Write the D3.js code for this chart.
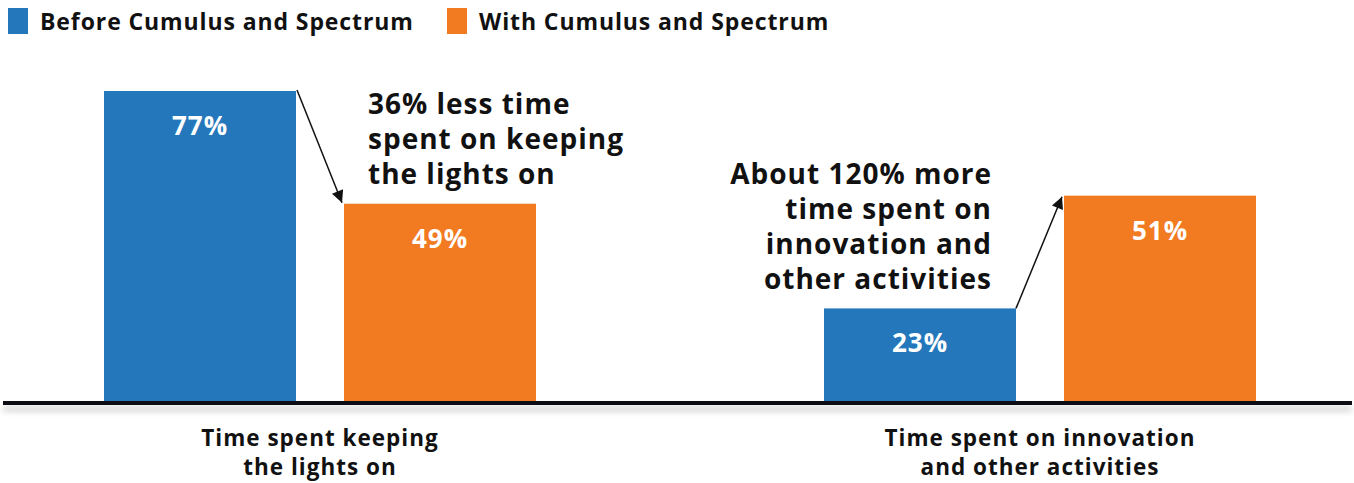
<!DOCTYPE html>
<html><head><meta charset="utf-8">
<script src="https://cdn.jsdelivr.net/npm/d3@7"></script>
<style>body{margin:0;background:#fff}svg{display:block;font-family:"Open Sans",sans-serif;font-weight:700}</style>
</head><body><svg id="c" width="1354" height="483"></svg>
<script>
const categories = ["keep", "innov"];
const categoryLabels = [["Time spent keeping","the lights on"],["Time spent on innovation","and other activities"]];
const seriesNames = ["Before Cumulus and Spectrum","With Cumulus and Spectrum"];
const seriesColors = ["#2477bb","#f27a21"];
const beforeValues = [77, 23];
const withValues = [49, 51];
const annotations = [["36% less time","spent on keeping","the lights on"],["About 120% more","time spent on","innovation and","other activities"]];

const svg = d3.select("#c");
const defs = svg.append("defs");
const f = defs.append("filter").attr("id","sh").attr("filterUnits","userSpaceOnUse")
  .attr("x",0).attr("y",380).attr("width",1354).attr("height",60);
f.append("feGaussianBlur").attr("in","SourceAlpha").attr("stdDeviation",3);
f.append("feOffset").attr("dy",6).attr("result","b");
f.append("feComponentTransfer").append("feFuncA").attr("type","linear").attr("slope",0.22);
const m = f.append("feMerge"); m.append("feMergeNode"); m.append("feMergeNode").attr("in","SourceGraphic");
defs.append("marker").attr("id","ah").attr("viewBox","0 0 10 10").attr("refX",10).attr("refY",5)
  .attr("markerWidth",14).attr("markerHeight",12).attr("markerUnits","userSpaceOnUse").attr("orient","auto")
  .append("path").attr("d","M0,0L10,5L0,10z").attr("fill","#111");

const x0 = d3.scaleBand().domain(categories).range([-40,1400]);
const x1 = d3.scaleBand().domain([0,1]).range([144,576]).paddingInner(0.2);
const y = d3.scaleLinear().domain([0,77]).range([401,91]);

const data = categories.map((c,i)=>({c, vals:[beforeValues[i], withValues[i]]}));
const g = svg.selectAll("g.grp").data(data).join("g").attr("class","grp")
  .attr("transform",d=>`translate(${x0(d.c)},0)`);
g.selectAll("rect").data(d=>d.vals).join("rect")
  .attr("x",(v,i)=>x1(i)).attr("width",x1.bandwidth())
  .attr("y",v=>y(v)).attr("height",v=>y(0)-y(v)).attr("fill",(v,i)=>seriesColors[i]);
g.selectAll("text.val").data(d=>d.vals).join("text").attr("class","val")
  .attr("x",(v,i)=>x1(i)+x1.bandwidth()/2).attr("y",v=>y(v)+44)
  .attr("text-anchor","middle").attr("fill","#fff").attr("font-size",26).attr("letter-spacing",1).text(v=>v+"%");

// axis line
svg.append("rect").attr("x",3).attr("width",1349).attr("y",y(0)).attr("height",4)
  .attr("fill","#111118").attr("filter","url(#sh)");

// category labels
categories.forEach((c,i)=>{
  const cx = x0(c)+x0.bandwidth()/2;
  categoryLabels[i].forEach((l,j)=>svg.append("text").attr("text-anchor","middle")
    .attr("font-size",22.5).attr("letter-spacing",1).attr("fill","#111")
    .attr("x",cx).attr("y",446+j*29).text(l));
});

// legend
seriesNames.forEach((s,i)=>{
  const lx = [8,447][i];
  svg.append("rect").attr("x",lx).attr("y",8).attr("width",20).attr("height",26).attr("fill",seriesColors[i]);
  svg.append("text").attr("x",lx+32).attr("y",30).attr("font-size",23).attr("letter-spacing",0.9).attr("fill","#111").text(s);
});

// annotations
const bx = (ci,si)=>x0(categories[ci])+x1(si);
annotations[0].forEach((l,j)=>svg.append("text").attr("font-size",28).attr("letter-spacing",1).attr("fill","#111")
  .attr("x",bx(0,1)+24).attr("y",114+j*35).text(l));
annotations[1].forEach((l,j)=>svg.append("text").attr("font-size",28).attr("letter-spacing",1).attr("fill","#111")
  .attr("text-anchor","end").attr("x",bx(1,0)+168).attr("y",184+j*35).text(l));

svg.append("line").attr("x1",bx(0,0)+x1.bandwidth()+1).attr("y1",y(beforeValues[0])-1)
  .attr("x2",bx(0,1)-2).attr("y2",y(withValues[0])-1).attr("stroke","#111").attr("stroke-width",1.5).attr("marker-end","url(#ah)");
svg.append("line").attr("x1",bx(1,0)+x1.bandwidth()).attr("y1",y(beforeValues[1]))
  .attr("x2",bx(1,1)-2).attr("y2",y(withValues[1])+1).attr("stroke","#111").attr("stroke-width",1.5).attr("marker-end","url(#ah)");
</script></body></html>
